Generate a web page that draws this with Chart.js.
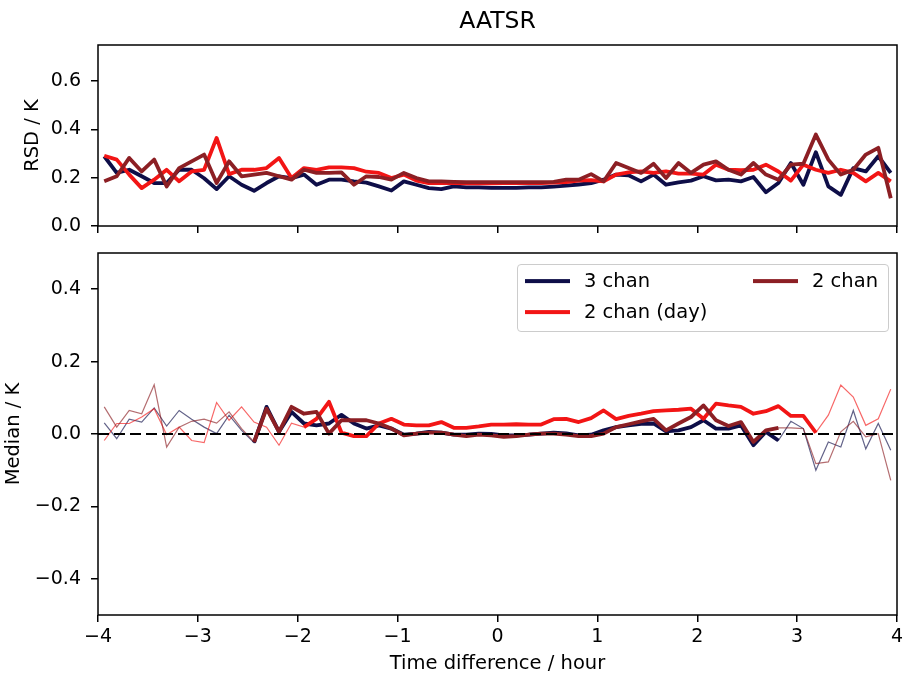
<!DOCTYPE html>
<html>
<head>
<meta charset="utf-8">
<title>AATSR</title>
<script src="https://cdn.jsdelivr.net/npm/chart.js@4.4.1/dist/chart.umd.min.js"></script>
<style>
  body { margin: 0; background: #fff; }
  #wrap { position: relative; width: 904px; height: 676px; font-family: "DejaVu Sans", sans-serif; }
  #wrap canvas { position: absolute; left: 0; }
  #rsdChart { top: 0; }
  #medChart { top: 240px; }
  #legend {
    position: absolute; left: 517px; top: 264px; width: 372px; height: 68px;
    box-sizing: border-box; border: 1px solid #cccccc; border-radius: 4px;
    background: rgba(255, 255, 255, 0.8);
  }
  #legend .swatch { position: absolute; width: 45px; height: 3.8px; transform: translateY(-50%); }
  #legend .name { position: absolute; font-size: 19.5px; line-height: 24px; color: #000; transform: translateY(-50%); white-space: nowrap; }
</style>
</head>
<body>
<div id="wrap">
  <canvas id="rsdChart" width="904" height="240"></canvas>
  <canvas id="medChart" width="904" height="436"></canvas>
  <div id="legend"></div>
</div>
<script>
// bin centres, hours
const timeBins = [
  -3.9375, -3.8125, -3.6875, -3.5625, -3.4375, -3.3125, -3.1875, -3.0625,
  -2.9375, -2.8125, -2.6875, -2.5625, -2.4375, -2.3125, -2.1875, -2.0625,
  -1.9375, -1.8125, -1.6875, -1.5625, -1.4375, -1.3125, -1.1875, -1.0625,
  -0.9375, -0.8125, -0.6875, -0.5625, -0.4375, -0.3125, -0.1875, -0.0625,
  0.0625, 0.1875, 0.3125, 0.4375, 0.5625, 0.6875, 0.8125, 0.9375,
  1.0625, 1.1875, 1.3125, 1.4375, 1.5625, 1.6875, 1.8125, 1.9375,
  2.0625, 2.1875, 2.3125, 2.4375, 2.5625, 2.6875, 2.8125, 2.9375,
  3.0625, 3.1875, 3.3125, 3.4375, 3.5625, 3.6875, 3.8125, 3.9375
];

// robust standard deviation, K
const rsd3 = [
  0.289, 0.220, 0.233, 0.206, 0.178, 0.178, 0.233, 0.233, 0.198, 0.153,
  0.206, 0.171, 0.146, 0.178, 0.206, 0.198, 0.213, 0.171, 0.192, 0.192,
  0.185, 0.180, 0.164, 0.147, 0.185, 0.171, 0.157, 0.153, 0.164, 0.160,
  0.160, 0.158, 0.158, 0.158, 0.160, 0.160, 0.163, 0.167, 0.172, 0.178,
  0.192, 0.213, 0.210, 0.185, 0.213, 0.171, 0.181, 0.188, 0.206, 0.189,
  0.192, 0.185, 0.203, 0.140, 0.178, 0.261, 0.171, 0.306, 0.164, 0.129,
  0.240, 0.226, 0.289, 0.220
];
const rsdDay = [
  0.291, 0.275, 0.213, 0.157, 0.192, 0.233, 0.185, 0.226, 0.233, 0.365,
  0.215, 0.233, 0.233, 0.240, 0.282, 0.199, 0.240, 0.233, 0.243, 0.243,
  0.240, 0.225, 0.220, 0.199, 0.213, 0.188, 0.178, 0.178, 0.178, 0.177,
  0.177, 0.177, 0.178, 0.178, 0.178, 0.178, 0.180, 0.182, 0.188, 0.190,
  0.185, 0.213, 0.222, 0.226, 0.220, 0.226, 0.217, 0.217, 0.213, 0.254,
  0.233, 0.231, 0.233, 0.254, 0.226, 0.188, 0.254, 0.233, 0.220, 0.233,
  0.220, 0.185, 0.220, 0.185
];
const rsd2 = [
  0.185, 0.206, 0.282, 0.226, 0.275, 0.164, 0.240, 0.268, 0.296, 0.178,
  0.268, 0.206, 0.213, 0.220, 0.206, 0.192, 0.233, 0.220, 0.220, 0.222,
  0.171, 0.206, 0.203, 0.192, 0.220, 0.199, 0.185, 0.185, 0.183, 0.182,
  0.182, 0.182, 0.182, 0.182, 0.182, 0.182, 0.183, 0.192, 0.192, 0.215,
  0.185, 0.261, 0.240, 0.220, 0.258, 0.199, 0.261, 0.220, 0.254, 0.268,
  0.233, 0.213, 0.261, 0.213, 0.192, 0.254, 0.258, 0.379, 0.275, 0.213,
  0.233, 0.296, 0.324, 0.115
];

// median difference, K
const med3 = [
  0.031, -0.013, 0.041, 0.033, 0.072, 0.022, 0.065, 0.041, 0.019, 0.001,
  0.052, 0.010, -0.024, 0.075, 0.006, 0.061, 0.029, 0.024, 0.029, 0.053,
  0.029, 0.015, 0.024, 0.015, -0.002, 0.001, 0.006, 0.004, -0.002, -0.002,
  0.001, 0.000, -0.004, -0.004, -0.002, 0.001, 0.004, 0.002, -0.004, -0.002,
  0.010, 0.019, 0.024, 0.028, 0.029, 0.007, 0.010, 0.019, 0.038, 0.015,
  0.015, 0.024, -0.031, 0.006, -0.018, 0.035, 0.015, -0.100, -0.022, -0.036,
  0.065, -0.041, 0.029, -0.045
];
const medDay = [
  -0.018, 0.029, 0.029, 0.047, 0.070, -0.002, 0.019, -0.018, -0.024, 0.087,
  0.038, 0.075, 0.033, 0.019, -0.031, 0.030, 0.019, 0.042, 0.089, 0.004,
  -0.006, -0.006, 0.029, 0.042, 0.026, 0.024, 0.024, 0.033, 0.017, 0.017,
  0.021, 0.026, 0.026, 0.027, 0.026, 0.026, 0.041, 0.042, 0.033, 0.044,
  0.065, 0.041, 0.050, 0.056, 0.063, 0.065, 0.067, 0.070, 0.042, 0.084,
  0.079, 0.075, 0.056, 0.063, 0.077, 0.050, 0.050, 0.004, 0.052, 0.135,
  0.102, 0.024, 0.042, 0.124
];
const med2 = [
  0.075, 0.019, 0.065, 0.056, 0.136, -0.036, 0.019, 0.035, 0.041, 0.030,
  0.061, 0.015, -0.022, 0.070, 0.006, 0.075, 0.056, 0.061, 0.001, 0.038,
  0.038, 0.038, 0.029, 0.015, -0.004, 0.001, 0.004, 0.004, -0.002, -0.006,
  -0.002, -0.004, -0.008, -0.006, -0.002, 0.001, 0.001, -0.002, -0.006, -0.006,
  0.001, 0.019, 0.027, 0.035, 0.042, 0.010, 0.029, 0.047, 0.079, 0.038,
  0.022, 0.033, -0.022, 0.010, 0.017, 0.017, 0.015, -0.082, -0.077, 0.006,
  0.035, -0.008, 0.001, -0.128
];

// bins with enough matches get the heavy line (first, last index)
const denseRange3 = [12, 54];
const denseRangeDay = [16, 57];
const denseRange2 = [12, 54];

const zeroLineX = [-4, 4];
const zeroLineY = [0, 0];

const timeTicks = [-4, -3, -2, -1, 0, 1, 2, 3, 4];
const rsdTicks = [0.0, 0.2, 0.4, 0.6];
const medTicks = [-0.4, -0.2, 0.0, 0.2, 0.4];

const NAVY = '#0e0e48';
const RED = '#f21515';
const MAROON = '#8c1f24';

const series = [
  { name: '3 chan', color: NAVY, rsd: rsd3, med: med3, dense: denseRange3 },
  { name: '2 chan (day)', color: RED, rsd: rsdDay, med: medDay, dense: denseRangeDay },
  { name: '2 chan', color: MAROON, rsd: rsd2, med: med2, dense: denseRange2 }
];

const FONT = '"DejaVu Sans", sans-serif';
const tickFont = { family: FONT, size: 19 };
const labelFont = { family: FONT, size: 19.5 };

function points(values, range) {
  return values.map((v, i) => ({
    x: timeBins[i],
    y: (!range || (i >= range[0] && i <= range[1])) ? v : null
  }));
}

function fade(hex, a) {
  const n = parseInt(hex.slice(1), 16);
  return `rgba(${n >> 16}, ${(n >> 8) & 255}, ${n & 255}, ${a})`;
}

function fmt(v, digits) {
  return v.toFixed(digits).replace('-', '\u2212');
}

// box round the plotting area, like the spines
const frame = {
  id: 'frame',
  afterDatasetsDraw(chart) {
    const { ctx, chartArea: a } = chart;
    ctx.save();
    ctx.strokeStyle = '#000';
    ctx.lineWidth = 1.5;
    ctx.strokeRect(a.left, a.top, a.right - a.left, a.bottom - a.top);
    ctx.restore();
  }
};

const tickMarks = { drawOnChartArea: false, drawTicks: true, tickLength: 7, color: '#000', lineWidth: 1.5 };

function timeAxis(showLabels) {
  return {
    type: 'linear',
    min: -4,
    max: 4,
    afterBuildTicks: s => { s.ticks = timeTicks.map(v => ({ value: v })); },
    afterFit: s => {
      s.height = showLabels ? 61 : 14;
      s.paddingLeft = 0;
      s.paddingRight = 0;
    },
    grid: tickMarks,
    border: { display: false },
    ticks: {
      display: showLabels, padding: 4, color: '#000', font: tickFont,
      maxRotation: 0, autoSkip: false,
      callback: v => fmt(v, 0)
    },
    title: {
      display: showLabels, text: 'Time difference / hour', color: '#000',
      font: labelFont, padding: { top: 0, bottom: 0.5 }
    }
  };
}

function valueAxis(min, max, ticks, label, labelPad) {
  return {
    min,
    max,
    afterBuildTicks: s => { s.ticks = ticks.map(v => ({ value: v })); },
    afterFit: s => {
      s.width = 98;
      s.paddingTop = 0;
      s.paddingBottom = 0;
    },
    grid: tickMarks,
    border: { display: false },
    ticks: { padding: 10, color: '#000', font: tickFont, autoSkip: false, callback: v => fmt(v, 1) },
    title: { display: true, text: label, color: '#000', font: labelFont, padding: { top: labelPad, bottom: 0 } }
  };
}

const heavy = 3.8;

// top panel: RSD
const rsdSets = series.map((s, k) => ({
  label: s.name,
  data: points(s.rsd),
  borderColor: s.color,
  borderWidth: heavy,
  borderJoinStyle: 'round',
  pointRadius: 0,
  order: series.length - k
}));

new Chart(document.getElementById('rsdChart'), {
  type: 'line',
  data: { datasets: rsdSets },
  options: {
    responsive: false,
    animation: false,
    devicePixelRatio: 1,
    layout: { padding: { top: 0, right: 7, bottom: 0, left: 0 } },
    plugins: {
      legend: { display: false },
      tooltip: { enabled: false },
      title: {
        display: true, text: 'AATSR', fullSize: false, color: '#000',
        font: { family: FONT, size: 23.5, weight: 'normal' },
        padding: { top: 8.2, bottom: 8.6 }
      }
    },
    scales: {
      x: timeAxis(false),
      y: valueAxis(0, 0.75, rsdTicks, 'RSD / K', 21)
    }
  },
  plugins: [frame]
});

// bottom panel: median, thin where few matches
const medSets = [{
  label: 'zero',
  data: zeroLineX.map((x, i) => ({ x, y: zeroLineY[i] })),
  borderColor: '#000',
  borderWidth: 2,
  borderDash: [11, 5],
  pointRadius: 0,
  order: 0
}];
series.forEach((s, k) => {
  medSets.push({
    label: s.name,
    data: points(s.med, s.dense),
    borderColor: s.color,
    borderWidth: heavy,
    borderJoinStyle: 'round',
    pointRadius: 0,
    order: 1 + (series.length - 1 - k)
  });
  medSets.push({
    label: s.name + ' (sparse)',
    data: points(s.med),
    borderColor: fade(s.color, 0.65),
    borderWidth: 1.2,
    pointRadius: 0,
    order: 4 + (series.length - 1 - k)
  });
});

new Chart(document.getElementById('medChart'), {
  type: 'line',
  data: { datasets: medSets },
  options: {
    responsive: false,
    animation: false,
    devicePixelRatio: 1,
    layout: { padding: { top: 13, right: 7, bottom: 0, left: 0 } },
    plugins: {
      legend: { display: false },
      tooltip: { enabled: false }
    },
    scales: {
      x: timeAxis(true),
      y: valueAxis(-0.5, 0.5, medTicks, 'Median / K', 2.3)
    }
  },
  plugins: [frame]
});

// legend: two columns, filled column by column
const legendEl = document.getElementById('legend');
const rows = Math.ceil(series.length / 2);
series.forEach((s, k) => {
  const col = Math.floor(k / rows);
  const row = k % rows;
  const cy = 16 + row * 31;
  const x0 = 7 + col * 228;
  const sw = document.createElement('div');
  sw.className = 'swatch';
  sw.style.left = x0 + 'px';
  sw.style.top = cy + 'px';
  sw.style.background = s.color;
  const nm = document.createElement('div');
  nm.className = 'name';
  nm.style.left = (x0 + 59) + 'px';
  nm.style.top = cy + 'px';
  nm.textContent = s.name;
  legendEl.appendChild(sw);
  legendEl.appendChild(nm);
});
</script>
</body>
</html>
